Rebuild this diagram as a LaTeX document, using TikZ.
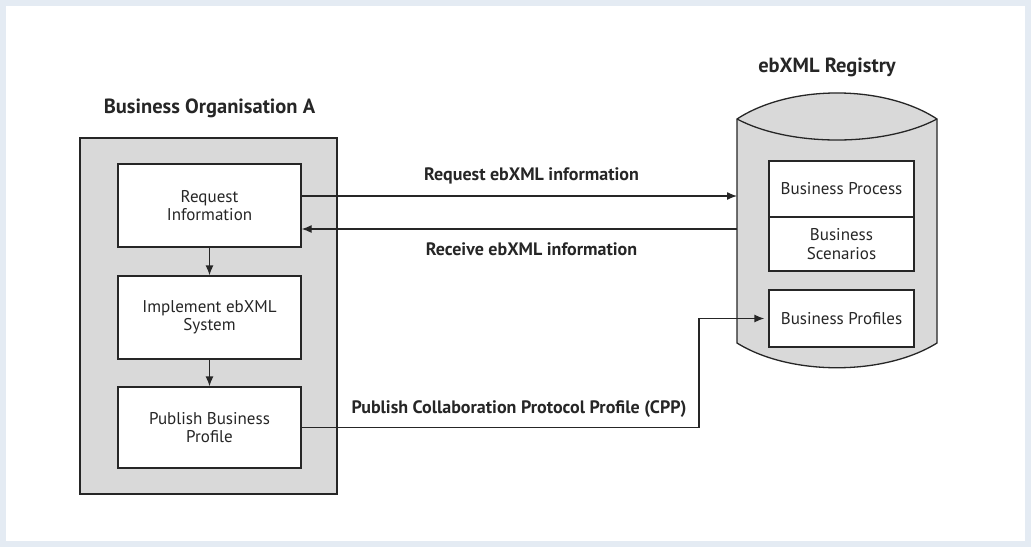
\documentclass[tikz,border=0pt]{standalone}
\usepackage{fontspec}
\setmainfont{PT Sans}
\usetikzlibrary{arrows.meta}
\definecolor{frame}{HTML}{E4EBF3}
\definecolor{boxgray}{HTML}{D9D9D9}
\definecolor{ink}{HTML}{262626}
\tikzset{
  every node/.style={font=\fontsize{17}{18.5}\selectfont, text=ink},
  inbox/.style={draw=ink, fill=white, line width=1.3pt, align=center, inner sep=0pt},
  title/.style={font=\bfseries\fontsize{20.5}{22}\selectfont},
  lbl/.style={font=\bfseries\fontsize{18}{20}\selectfont},
  arr/.style={draw=ink, line width=1.3pt, -{Latex[length=10pt,width=8pt]}},
  outline/.style={draw=ink, line width=1.3pt},
}
\begin{document}
\begin{tikzpicture}[x=1pt,y=-1pt]
\useasboundingbox (0,0) rectangle (1031,547);
\fill[frame] (0,0) rectangle (1031,547);
\fill[white] (6,6) rectangle (1025,541);
% left organisation
\node[outline, fill=boxgray, minimum width=257pt, minimum height=356pt, inner sep=0pt] (org) at (208.5,316) {};
\node[title] (orgt) at (209.5,108) {Business Organisation A};
\node[inbox, minimum width=183pt, minimum height=83pt] (req) at (209.5,205.5) {Request\\Information};
\node[inbox, minimum width=183pt, minimum height=83pt] (impl) at (209.5,317.5) {Implement ebXML\\System};
\node[inbox, minimum width=183pt, minimum height=81pt] (pub) at (209.5,427.5) {Publish Business\\Profile};
\draw[arr] (req) -- (impl);
\draw[arr] (impl) -- (pub);
% registry cylinder
\filldraw[outline, fill=boxgray] (737,119) .. controls (790,84.3) and (884,84.3) .. (937,119)
  -- (937,343) .. controls (884,376) and (790,376) .. (737,343) -- cycle;
\draw[outline] (737,119) .. controls (790,147) and (884,147) .. (937,119);
\node[title] (regt) at (827,67) {ebXML Registry};
\node[inbox, minimum width=145pt, minimum height=56pt] (bp) at (841.5,189) {Business Process};
\node[inbox, minimum width=145pt, minimum height=54pt] (bs) at (841.5,244) {Business\\Scenarios};
\node[inbox, minimum width=145pt, minimum height=57pt] (prof) at (841.5,318.5) {Business Profiles};
% connectors
\coordinate (rqEnd) at (737,196);
\coordinate (rcStart) at (737,229);
\coordinate (bend) at (699,0);
\draw[arr] ([yshift=9.5pt]req.east) -- (rqEnd);
\draw[arr] (rcStart) -- ([yshift=-23.5pt]req.east);
\draw[arr] (pub.east) -- (pub.east -| bend) |- ([xshift=-4pt]prof.west);
\node[lbl] (rql) at (531.5,176) {Request ebXML information};
\node[lbl] (rcl) at (531.5,249) {Receive ebXML information};
\node[lbl] (pbl) at (519,409) {Publish Collaboration Protocol Profile (CPP)};
\end{tikzpicture}
\end{document}
